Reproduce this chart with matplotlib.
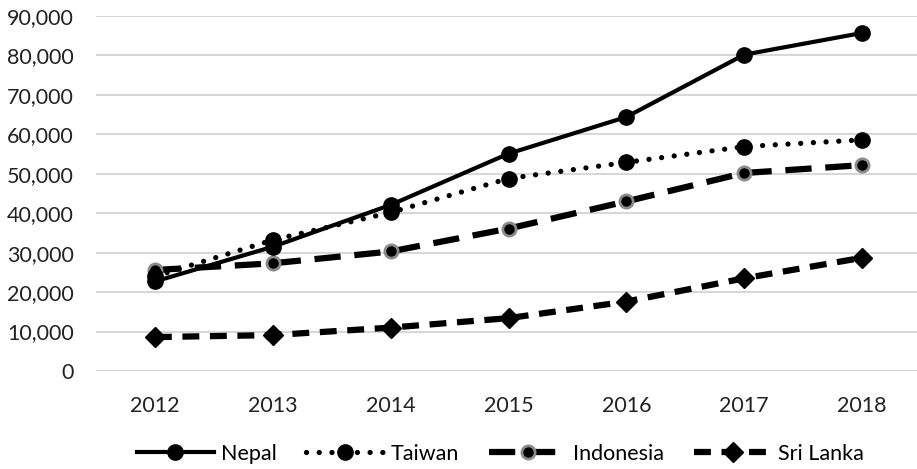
import matplotlib
matplotlib.use("Agg")
import matplotlib.pyplot as plt
from matplotlib.ticker import FuncFormatter, MultipleLocator

plt.rcParams['font.family'] = ['Lato', 'DejaVu Sans']

years = ['2012', '2013', '2014', '2015', '2016', '2017', '2018']
nepal = [22700, 31500, 42100, 55100, 64400, 80200, 85700]
taiwan = [24000, 33200, 40200, 48800, 52900, 56900, 58600]
indonesia = [25600, 27300, 30300, 36100, 43000, 50200, 52200]
sri_lanka = [8600, 9100, 11000, 13400, 17600, 23500, 28700]

fig = plt.figure(figsize=(9.17, 4.69), dpi=100)
ax = fig.add_axes([96 / 917, 98 / 469, 825 / 917, 355 / 469])

x = range(len(years))
ax.plot(x, nepal, color='black', lw=3, ls='-', marker='o', ms=11, label='Nepal', zorder=5)
ax.plot(x, taiwan, color='black', lw=3.8, ls=(0, (0.01, 2.4)), dash_capstyle='round',
        marker='o', ms=11, label='Taiwan', zorder=4)
ax.plot(x, indonesia, color='black', lw=4.5, ls=(0, (4.2, 2.2)), marker='o', ms=9.5,
        mfc='black', mec='#8a8a8a', mew=2, label='Indonesia', zorder=3)
ax.plot(x, sri_lanka, color='black', lw=4.5, ls=(0, (2.7, 1.7)), marker='D', ms=10,
        label='Sri Lanka', zorder=2)

ax.set_xlim(-0.5, len(years) - 0.5)
ax.set_ylim(0, 90000)
ax.set_xticks(list(x))
ax.set_xticklabels(years)
ax.yaxis.set_major_locator(MultipleLocator(10000))
ax.yaxis.set_major_formatter(FuncFormatter(lambda v, p: f"{int(v):,}"))
ax.grid(axis='y', color='#d0d0d0', lw=1.2)
ax.set_axisbelow(True)
for s in ax.spines.values():
    s.set_visible(False)
ax.tick_params(axis='both', length=0, labelsize=15.5, colors='#222222')
ax.tick_params(axis='x', pad=18)
ax.tick_params(axis='y', pad=16)

leg = ax.legend(loc='upper center', bbox_to_anchor=(0.49, -0.15), ncol=4, frameon=False,
                fontsize=15.5, handlelength=3.6, columnspacing=1.4, handletextpad=0.3)

fig.savefig('out.png', dpi=100)
